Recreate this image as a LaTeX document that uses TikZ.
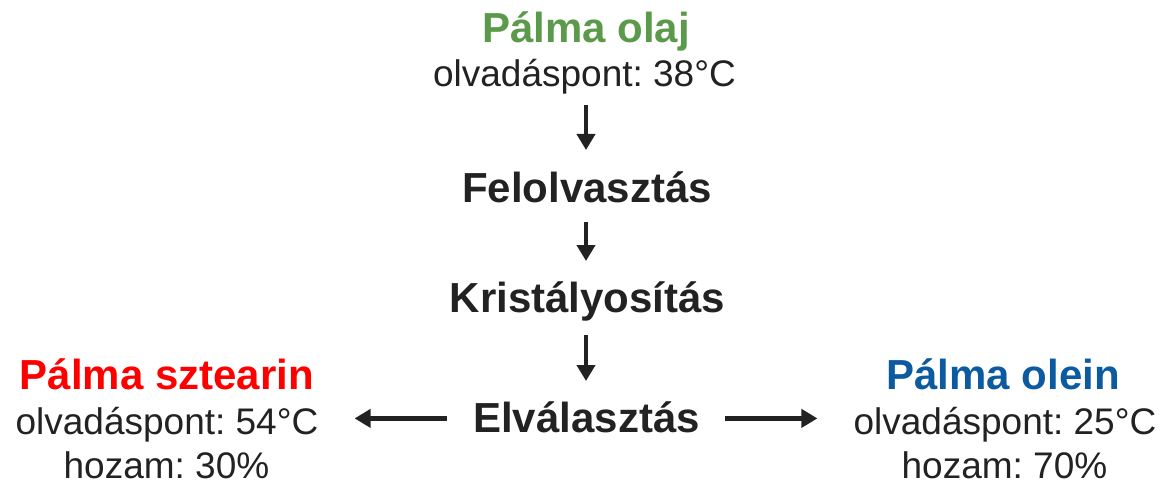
\documentclass[tikz,border=0pt]{standalone}
\usepackage{fontspec}
\setmainfont{Liberation Sans}
\usetikzlibrary{arrows.meta}
\definecolor{txt}{HTML}{222222}
\definecolor{pgreen}{HTML}{5B9A4B}
\definecolor{pblue}{HTML}{0C5AA0}
\definecolor{pred}{HTML}{FF0000}
\frenchspacing
\tikzset{
  lbl/.style={anchor=base, inner sep=0pt, text height=0.72em, text depth=0.2em, text=txt},
  reg/.style={lbl, font=\fontsize{37}{37}\selectfont\frenchspacing},
  hd/.style={lbl, font=\fontsize{42}{42}\selectfont\bfseries\frenchspacing},
  arr/.style={draw=txt, line width=4.5pt, -{Triangle[length=16pt,width=18pt]}}
}
\begin{document}
\begin{tikzpicture}[x=1pt,y=-1pt]
\useasboundingbox (0,0) rectangle (1160,484);
% centre column
\node[hd, text=pgreen] (olaj) at (586,43) {Pálma olaj};
\node[reg] (olv1) at (584.5,87) {olvadáspont: 38°C};
\node[hd] (fel) at (587,202) {Felolvasztás};
\node[hd] (kris) at (587.5,312) {Kristályosítás};
\node[hd] (elv) at (586.5,432) {Elválasztás};
% left block
\node[hd, text=pred] (szt) at (167,389) {Pálma sztearin};
\node[reg] (olv2) at (167,434) {olvadáspont: 54°C};
\node[reg] (hoz2) at (166.5,478) {hozam: 30\%};
% right block
\node[hd, text=pblue] (olein) at (1003,389) {Pálma olein};
\node[reg] (olv3) at (1005,434) {olvadáspont: 25°C};
\node[reg] (hoz3) at (1004.5,478) {hozam: 70\%};
% arrows
\draw[arr, shorten <=18pt, shorten >=52pt] (olv1.base -| olaj.base) -- (fel.base -| olaj.base);
\draw[arr, shorten <=20pt, shorten >=51pt] (fel.base -| olaj.base) -- (kris.base -| olaj.base);
\draw[arr, shorten <=23pt, shorten >=51pt] (kris.base -| olaj.base) -- (elv.base -| olaj.base);
\draw[arr, shorten <=26pt, shorten >=36pt] ([yshift=11pt]elv.west) -- ([yshift=11pt]elv.west -| olv2.east);
\draw[arr, shorten <=25pt, shorten >=36pt] ([yshift=11pt]elv.east) -- ([yshift=11pt]elv.east -| olv3.west);
\end{tikzpicture}
\end{document}
